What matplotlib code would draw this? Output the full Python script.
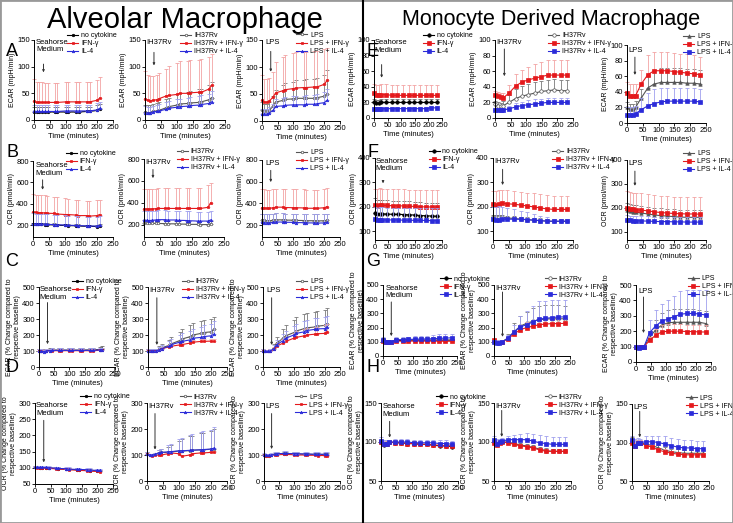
import matplotlib
matplotlib.use('Agg')
import matplotlib.pyplot as plt
import numpy as np
from matplotlib.patches import Rectangle

plt.rcParams['font.family'] = ['Liberation Sans', 'DejaVu Sans']
plt.rcParams['font.size'] = 5

# measurement times (minutes)
t_am = [0, 8, 16, 24, 36, 44, 66, 74, 100, 108, 134, 142, 168, 176, 200, 208]
t_md = [0, 9, 18, 27, 45, 66, 86, 107, 128, 148, 169, 190, 211, 232]

lab_med = ['no cytokine', 'IFN-γ', 'IL-4']
lab_rv = ['IH37Rv', 'IH37Rv + IFN-γ', 'IH37Rv + IL-4']
lab_lps = ['LPS', 'LPS + IFN-γ', 'LPS + IL-4']

# ---- Alveolar macrophage: ECAR (mpH/min)
a1_ctrl = [15, 15, 15, 15, 15, 15, 15, 15, 15, 15, 15, 15, 16, 16, 18, 20]
a1_ctrl_e = [9, 9, 9, 9, 9, 9, 9, 9, 9, 9, 9, 9, 9, 9, 10, 10]
a1_ifn = [35, 33, 33, 33, 33, 33, 33, 33, 34, 34, 34, 34, 34, 34, 37, 41]
a1_ifn_e = [42, 38, 38, 38, 37, 36, 36, 36, 37, 37, 38, 38, 38, 38, 38, 40]
a1_il4 = [17, 16, 16, 16, 16, 16, 16, 16, 17, 17, 17, 17, 17, 17, 19, 22]
a1_il4_e = [12, 12, 12, 12, 12, 12, 12, 12, 12, 12, 12, 12, 12, 12, 12, 12]

a2_rv = [15, 14, 14, 16, 17, 18, 23, 25, 28, 30, 31, 32, 33, 34, 38, 42]
a2_rv_e = [14, 14, 14, 14, 15, 15, 17, 17, 20, 20, 22, 22, 25, 25, 28, 30]
a2_ifn = [40, 37, 36, 37, 38, 40, 45, 46, 48, 50, 50, 51, 52, 52, 58, 65]
a2_ifn_e = [52, 48, 46, 46, 47, 48, 50, 55, 58, 60, 60, 62, 60, 62, 60, 58]
a2_il4 = [14, 13, 13, 15, 16, 17, 20, 22, 24, 25, 26, 27, 28, 29, 31, 34]
a2_il4_e = [12, 12, 12, 12, 12, 13, 14, 14, 15, 15, 16, 16, 17, 17, 18, 20]

a3_lps = [20, 18, 18, 20, 28, 35, 38, 40, 41, 42, 42, 42, 42, 43, 46, 50]
a3_lps_e = [15, 14, 14, 15, 18, 22, 28, 30, 32, 33, 34, 35, 36, 36, 40, 45]
a3_ifn = [38, 35, 35, 37, 45, 52, 56, 58, 60, 61, 62, 62, 63, 63, 68, 75]
a3_ifn_e = [48, 42, 42, 42, 45, 58, 62, 64, 65, 66, 66, 66, 66, 66, 65, 60]
a3_il4 = [13, 13, 13, 15, 20, 27, 28, 29, 30, 30, 30, 31, 31, 32, 34, 38]
a3_il4_e = [10, 10, 10, 10, 12, 14, 15, 16, 16, 17, 17, 17, 18, 18, 20, 22]

# ---- Alveolar macrophage: OCR (pmol/min)
b1_ctrl = [210, 210, 208, 208, 206, 205, 203, 200, 198, 197, 195, 193, 190, 190, 188, 195]
b1_ctrl_e = [15, 15, 15, 15, 15, 15, 15, 15, 15, 15, 15, 15, 15, 15, 15, 15]
b1_ifn = [320, 320, 318, 318, 315, 312, 310, 305, 300, 300, 295, 290, 290, 285, 290, 300]
b1_ifn_e = [170, 165, 168, 168, 165, 160, 158, 155, 150, 148, 145, 145, 140, 145, 145, 140]
b1_il4 = [215, 214, 212, 212, 210, 208, 206, 204, 202, 200, 198, 196, 194, 193, 192, 198]
b1_il4_e = [95, 95, 95, 95, 95, 95, 93, 92, 90, 90, 88, 88, 86, 86, 85, 85]

b2_rv = [215, 215, 213, 213, 215, 213, 212, 210, 210, 208, 207, 205, 205, 203, 203, 210]
b2_rv_e = [30, 30, 30, 30, 30, 30, 30, 30, 30, 30, 30, 30, 30, 30, 30, 30]
b2_ifn = [345, 345, 343, 345, 348, 350, 350, 350, 350, 350, 350, 350, 350, 350, 360, 400]
b2_ifn_e = [185, 185, 187, 185, 183, 185, 185, 183, 183, 185, 183, 185, 190, 185, 200, 180]
b2_il4 = [245, 242, 240, 242, 245, 248, 248, 245, 245, 242, 240, 238, 235, 235, 235, 245]
b2_il4_e = [85, 85, 85, 85, 85, 85, 85, 85, 85, 85, 85, 85, 85, 85, 85, 80]

b3_lps = [245, 243, 240, 240, 245, 248, 248, 246, 245, 243, 242, 240, 240, 238, 240, 245]
b3_lps_e = [60, 60, 60, 60, 60, 60, 60, 60, 60, 60, 60, 60, 60, 60, 60, 60]
b3_ifn = [360, 358, 355, 355, 360, 365, 365, 362, 360, 360, 358, 355, 355, 355, 360, 370]
b3_ifn_e = [170, 170, 170, 170, 170, 170, 170, 170, 170, 170, 170, 170, 170, 170, 170, 170]
b3_il4 = [225, 222, 220, 220, 225, 228, 228, 226, 225, 223, 222, 220, 220, 218, 220, 225]
b3_il4_e = [80, 80, 80, 80, 80, 80, 80, 80, 80, 80, 80, 80, 80, 80, 80, 80]

# ---- Alveolar macrophage: ECAR % of baseline
c1_ctrl = [100, 100, 100, 100, 105, 105, 105, 105, 105, 105, 105, 105, 106, 106, 108, 110]
c1_ctrl_e = [15, 12, 12, 12, 15, 15, 15, 15, 15, 15, 15, 15, 15, 15, 18, 20]
c1_ifn = [100, 100, 98, 100, 100, 102, 102, 102, 102, 102, 102, 102, 102, 102, 104, 106]
c1_ifn_e = [10, 10, 10, 10, 10, 10, 10, 10, 10, 10, 10, 10, 10, 10, 10, 10]
c1_il4 = [100, 98, 96, 100, 103, 104, 104, 104, 104, 104, 104, 104, 104, 104, 106, 108]
c1_il4_e = [12, 12, 12, 12, 12, 12, 12, 12, 12, 12, 12, 12, 12, 12, 12, 12]

c2_rv = [100, 100, 100, 100, 110, 120, 135, 145, 165, 175, 190, 200, 210, 215, 220, 235]
c2_rv_e = [15, 12, 12, 12, 20, 25, 35, 40, 55, 60, 70, 75, 80, 80, 80, 75]
c2_ifn = [105, 100, 100, 100, 105, 115, 125, 130, 138, 140, 150, 155, 160, 160, 162, 160]
c2_ifn_e = [10, 8, 8, 8, 10, 12, 15, 15, 15, 15, 15, 15, 15, 15, 15, 15]
c2_il4 = [100, 100, 100, 100, 108, 115, 130, 140, 155, 160, 170, 180, 185, 190, 195, 205]
c2_il4_e = [10, 10, 10, 10, 15, 20, 30, 35, 45, 50, 55, 60, 65, 70, 75, 80]

c3_lps = [100, 98, 98, 100, 120, 150, 180, 195, 215, 225, 240, 245, 250, 255, 260, 270]
c3_lps_e = [10, 10, 10, 10, 25, 40, 60, 70, 80, 85, 90, 90, 95, 95, 95, 100]
c3_ifn = [100, 98, 98, 100, 110, 130, 150, 160, 180, 185, 195, 200, 205, 208, 210, 220]
c3_ifn_e = [10, 10, 10, 10, 15, 20, 25, 30, 35, 40, 40, 45, 45, 45, 50, 50]
c3_il4 = [100, 98, 98, 100, 115, 140, 165, 180, 200, 210, 220, 228, 235, 238, 240, 250]
c3_il4_e = [10, 10, 10, 10, 20, 30, 40, 45, 55, 60, 65, 65, 70, 70, 70, 70]

# ---- Alveolar macrophage: OCR % of baseline
d1_ctrl = [102, 101, 100, 100, 100, 99, 98, 97, 96, 95, 94, 93, 92, 91, 90, 89]
d1_ctrl_e = [5, 4, 4, 4, 4, 4, 4, 4, 4, 4, 4, 4, 4, 4, 4, 4]
d1_ifn = [101, 100, 99, 99, 99, 98, 97, 96, 95, 94, 93, 92, 91, 90, 89, 88]
d1_ifn_e = [4, 4, 4, 4, 4, 4, 4, 4, 4, 4, 4, 4, 4, 4, 4, 4]
d1_il4 = [102, 101, 101, 101, 101, 100, 99, 98, 97, 96, 95, 95, 94, 93, 92, 92]
d1_il4_e = [5, 5, 5, 5, 5, 5, 5, 5, 5, 5, 5, 5, 5, 5, 5, 5]

d2_rv = [105, 100, 100, 102, 108, 110, 110, 112, 115, 115, 117, 118, 120, 120, 122, 125]
d2_rv_e = [5, 5, 5, 5, 10, 15, 20, 25, 40, 45, 55, 55, 65, 65, 70, 75]
d2_ifn = [105, 100, 98, 100, 100, 100, 105, 108, 105, 95, 100, 105, 108, 108, 110, 110]
d2_ifn_e = [4, 4, 4, 4, 4, 4, 4, 4, 4, 4, 4, 4, 4, 4, 4, 4]
d2_il4 = [105, 100, 100, 102, 108, 110, 112, 113, 116, 116, 118, 119, 120, 121, 123, 126]
d2_il4_e = [5, 5, 5, 5, 10, 15, 25, 30, 45, 50, 60, 60, 70, 70, 75, 80]

d3_lps = [100, 98, 98, 100, 102, 104, 105, 105, 104, 104, 103, 103, 102, 102, 102, 101]
d3_lps_e = [5, 5, 5, 5, 6, 6, 6, 6, 6, 6, 6, 6, 6, 6, 6, 6]
d3_ifn = [100, 97, 97, 99, 100, 101, 102, 102, 101, 100, 100, 99, 99, 98, 98, 97]
d3_ifn_e = [4, 4, 4, 4, 4, 4, 4, 4, 4, 4, 4, 4, 4, 4, 4, 4]
d3_il4 = [101, 99, 99, 100, 103, 105, 106, 106, 105, 105, 104, 104, 103, 103, 103, 102]
d3_il4_e = [6, 6, 6, 6, 8, 8, 8, 8, 8, 8, 8, 8, 8, 8, 8, 8]

# ---- Monocyte derived macrophage: ECAR (mpH/min)
e1_ctrl = [20, 19, 19, 20, 20, 20, 20, 20, 20, 20, 20, 20, 20, 20]
e1_ctrl_e = [4, 4, 4, 4, 4, 4, 4, 4, 4, 4, 4, 4, 4, 4]
e1_ifn = [32, 30, 30, 30, 30, 29, 29, 29, 29, 29, 29, 29, 29, 29]
e1_ifn_e = [12, 12, 12, 13, 14, 13, 13, 13, 13, 13, 13, 13, 13, 13]
e1_il4 = [12, 12, 11, 12, 12, 12, 12, 12, 12, 12, 12, 12, 13, 13]
e1_il4_e = [2, 2, 2, 2, 2, 2, 2, 2, 2, 2, 2, 2, 2, 2]

e2_rv = [18, 16, 15, 16, 20, 25, 28, 30, 32, 34, 35, 36, 35, 35]
e2_rv_e = [4, 4, 4, 6, 10, 12, 13, 13, 14, 14, 14, 14, 14, 14]
e2_ifn = [30, 28, 27, 26, 32, 41, 46, 49, 51, 53, 55, 55, 55, 55]
e2_ifn_e = [5, 5, 5, 6, 10, 15, 16, 17, 18, 19, 19, 19, 19, 19]
e2_il4 = [10, 10, 10, 10, 12, 14, 16, 17, 18, 19, 20, 20, 20, 20]
e2_il4_e = [3, 3, 3, 3, 4, 5, 5, 6, 6, 6, 6, 6, 6, 6]

e3_lps = [20, 18, 18, 20, 32, 45, 50, 52, 52, 52, 52, 51, 51, 50]
e3_lps_e = [7, 7, 7, 8, 12, 15, 18, 18, 18, 18, 18, 18, 18, 18]
e3_ifn = [38, 35, 35, 35, 50, 62, 67, 67, 67, 66, 65, 64, 63, 62]
e3_ifn_e = [15, 15, 15, 15, 18, 25, 24, 24, 24, 24, 24, 24, 24, 22]
e3_il4 = [10, 10, 10, 12, 17, 22, 25, 27, 28, 28, 28, 28, 28, 27]
e3_il4_e = [10, 10, 10, 10, 15, 17, 18, 18, 17, 17, 17, 17, 17, 16]

# ---- Monocyte derived macrophage: OCR (pmol/min)
f1_ctrl = [175, 170, 172, 172, 171, 170, 170, 169, 168, 167, 165, 164, 163, 162]
f1_ctrl_e = [60, 58, 58, 58, 57, 56, 56, 55, 55, 55, 55, 54, 54, 54]
f1_ifn = [210, 205, 208, 207, 206, 205, 205, 204, 203, 202, 201, 200, 200, 200]
f1_ifn_e = [65, 70, 68, 68, 68, 68, 68, 68, 68, 68, 68, 68, 68, 68]
f1_il4 = [150, 147, 148, 148, 147, 147, 147, 146, 146, 145, 145, 145, 144, 144]
f1_il4_e = [50, 50, 50, 50, 50, 50, 50, 50, 50, 50, 50, 50, 50, 50]

f2_rv = [158, 157, 158, 158, 155, 153, 150, 148, 146, 144, 142, 141, 141, 141]
f2_rv_e = [10, 10, 10, 10, 10, 10, 10, 10, 10, 10, 10, 10, 10, 10]
f2_ifn = [212, 210, 213, 215, 213, 211, 208, 204, 200, 196, 192, 190, 190, 190]
f2_ifn_e = [55, 55, 55, 55, 55, 55, 55, 55, 55, 55, 55, 55, 55, 55]
f2_il4 = [150, 145, 148, 150, 150, 150, 150, 148, 146, 144, 142, 142, 142, 142]
f2_il4_e = [50, 55, 55, 50, 45, 40, 35, 30, 25, 20, 15, 10, 10, 10]

f3_lps = [190, 185, 183, 182, 178, 174, 170, 167, 165, 163, 161, 160, 160, 160]
f3_lps_e = [30, 30, 30, 30, 30, 30, 30, 30, 30, 30, 30, 30, 30, 30]
f3_ifn = [200, 195, 193, 192, 190, 187, 183, 180, 178, 176, 175, 174, 174, 173]
f3_ifn_e = [70, 70, 70, 70, 70, 70, 70, 70, 70, 70, 70, 70, 70, 70]
f3_il4 = [150, 147, 146, 146, 145, 144, 143, 142, 142, 141, 141, 140, 140, 140]
f3_il4_e = [20, 20, 20, 20, 20, 20, 20, 20, 20, 20, 20, 20, 20, 20]

# ---- Monocyte derived macrophage: ECAR % of baseline
g1_ctrl = [110, 100, 98, 100, 110, 110, 112, 112, 112, 112, 112, 112, 112, 112]
g1_ctrl_e = [15, 10, 10, 10, 15, 15, 18, 18, 20, 20, 22, 22, 24, 24]
g1_ifn = [105, 100, 98, 100, 105, 105, 105, 105, 105, 105, 105, 104, 104, 104]
g1_ifn_e = [10, 8, 8, 8, 10, 10, 10, 10, 10, 10, 10, 10, 10, 10]
g1_il4 = [115, 100, 98, 100, 115, 115, 117, 118, 120, 120, 122, 124, 126, 128]
g1_il4_e = [20, 10, 10, 10, 20, 20, 20, 22, 22, 24, 26, 28, 28, 28]

g2_rv = [100, 100, 100, 100, 125, 170, 210, 230, 245, 255, 260, 262, 262, 262]
g2_rv_e = [15, 15, 15, 15, 30, 60, 70, 80, 90, 100, 100, 100, 95, 90]
g2_ifn = [110, 100, 100, 100, 120, 155, 185, 200, 210, 220, 225, 228, 228, 230]
g2_ifn_e = [10, 10, 10, 10, 15, 25, 35, 40, 40, 40, 40, 40, 40, 40]
g2_il4 = [100, 95, 95, 100, 125, 170, 205, 220, 240, 260, 265, 270, 275, 275]
g2_il4_e = [15, 15, 15, 15, 25, 50, 80, 100, 110, 125, 120, 125, 120, 120]

g3_lps = [100, 95, 95, 100, 160, 210, 240, 255, 258, 258, 258, 258, 258, 250]
g3_lps_e = [10, 10, 10, 10, 40, 60, 80, 85, 85, 85, 85, 85, 80, 80]
g3_ifn = [100, 95, 95, 100, 140, 175, 195, 200, 200, 200, 198, 198, 195, 195]
g3_ifn_e = [10, 10, 10, 10, 20, 40, 45, 45, 45, 45, 45, 45, 45, 45]
g3_il4 = [100, 90, 95, 100, 190, 235, 265, 280, 295, 310, 315, 315, 312, 305]
g3_il4_e = [10, 10, 10, 10, 85, 105, 110, 125, 135, 150, 150, 155, 155, 160]

# ---- Monocyte derived macrophage: OCR % of baseline
h1_ctrl = [100, 96, 98, 100, 99, 99, 98, 98, 97, 97, 96, 95, 95, 94]
h1_ctrl_e = [3, 4, 3, 3, 3, 3, 3, 3, 3, 3, 3, 3, 3, 3]
h1_ifn = [100, 97, 98, 100, 99, 99, 98, 98, 97, 97, 96, 96, 95, 95]
h1_ifn_e = [3, 3, 3, 3, 3, 3, 3, 3, 3, 3, 3, 3, 3, 3]
h1_il4 = [101, 97, 98, 100, 100, 100, 100, 99, 99, 99, 99, 98, 98, 97]
h1_il4_e = [5, 5, 4, 3, 4, 4, 4, 4, 4, 4, 4, 4, 4, 4]

h2_rv = [100, 97, 100, 100, 100, 98, 96, 95, 93, 91, 89, 88, 88, 88]
h2_rv_e = [3, 3, 3, 3, 3, 3, 3, 3, 3, 3, 3, 3, 3, 3]
h2_ifn = [99, 96, 99, 100, 99, 97, 95, 94, 92, 90, 88, 88, 88, 88]
h2_ifn_e = [2, 2, 2, 2, 2, 2, 2, 2, 2, 2, 2, 2, 2, 2]
h2_il4 = [103, 98, 100, 101, 103, 103, 103, 103, 101, 99, 98, 97, 97, 97]
h2_il4_e = [5, 6, 4, 4, 5, 6, 7, 8, 9, 10, 10, 10, 10, 10]

h3_lps = [103, 95, 100, 100, 98, 96, 93, 90, 88, 87, 86, 86, 86, 86]
h3_lps_e = [4, 5, 3, 3, 4, 4, 4, 4, 4, 4, 4, 4, 4, 4]
h3_ifn = [100, 96, 100, 100, 96, 94, 90, 88, 86, 85, 84, 84, 84, 84]
h3_ifn_e = [3, 3, 3, 3, 3, 3, 3, 3, 3, 3, 3, 3, 3, 3]
h3_il4 = [103, 95, 100, 100, 101, 101, 100, 98, 96, 94, 93, 93, 92, 92]
h3_il4_e = [5, 10, 6, 5, 7, 8, 9, 10, 10, 10, 10, 10, 10, 10]

W, H = 733, 523
fig = plt.figure(figsize=(W / 100, H / 100), dpi=100)


def rect(x0, x1, y0, y1):
    return [x0 / W, 1 - y1 / H, (x1 - x0) / W, (y1 - y0) / H]


RED, BLUE = '#e4191c', '#2b2bd9'
st_ctrl = dict(color='black', marker='o', mfc='black', ecolor='#6a6a6a')
st_path = dict(color='#555555', marker='o', mfc='white', ecolor='#7a7a7a')
st_tri = dict(color='#555555', marker='^', mfc='#555555', ecolor='#7a7a7a')
st_red = dict(color=RED, marker='s', mfc=RED, ecolor='#f3a3a3')
st_blue_t = dict(color=BLUE, marker='^', mfc=BLUE, ecolor='#a0a0ee')
st_blue_s = dict(color=BLUE, marker='s', mfc=BLUE, ecolor='#a0a0ee')

ECAR = 'ECAR (mpH/min)'
OCR = 'OCR (pmol/min)'
ECARp = 'ECAR (% Change compared to\nrespective baseline)'
OCRp = 'OCR (% Change compared to\nrespective baseline)'


def panel(box, t, series, labels, styles, ylim, yticks, ylabel, leg, note, arrow, ms=1.8):
    ax = fig.add_axes(rect(*box))
    for (y, e), lab, st in zip(series, labels, styles):
        e = np.array(e)
        ax.errorbar(t, y, yerr=[np.zeros_like(e), e], fmt='none', ecolor=st['ecolor'],
                    elinewidth=0.6, capsize=1.3, capthick=0.6, clip_on=False)
        ax.plot(t, y, color=st['color'], marker=st['marker'], ms=ms, mfc=st['mfc'],
                mec=st['color'], mew=0.5, lw=0.8, label=lab, clip_on=False)
    ax.set_xlim(0, 250)
    ax.set_xticks([0, 50, 100, 150, 200, 250])
    ax.set_ylim(*ylim)
    ax.set_yticks(yticks)
    ax.set_xlabel('Time (minutes)', fontsize=5.5, labelpad=1)
    ax.set_ylabel(ylabel, fontsize=5, labelpad=1)
    ax.tick_params(length=2, width=0.6, pad=1, labelsize=5.5)
    for s in ['top', 'right']:
        ax.spines[s].set_visible(False)
    for s in ['left', 'bottom']:
        ax.spines[s].set_linewidth(0.7)
    ax.legend(loc='upper left', bbox_to_anchor=leg, frameon=False, fontsize=5,
              handlelength=1.6, handletextpad=0.4, labelspacing=0.15, borderpad=0,
              borderaxespad=0)
    txt, tx, ty = note
    ax.text(tx, ty, txt, fontsize=5.5, va='top', ha='left', linespacing=1.1)
    axx, y0, y1 = arrow
    ax.annotate('', xy=(axx, y1), xytext=(axx, y0),
                arrowprops=dict(arrowstyle='-|>,head_width=0.12,head_length=0.25',
                                color='#333333', lw=0.7))
    return ax


AMs = [st_ctrl, st_red, st_blue_t]
AMp = [st_path, st_red, st_blue_t]
MDs = [st_ctrl, st_red, st_blue_s]
MDp = [st_path, st_red, st_blue_s]
MDl = [st_tri, st_red, st_blue_s]
SM = 'Seahorse\nMedium'

# row A
panel((34, 113, 40, 120), t_am, [(a1_ctrl, a1_ctrl_e), (a1_ifn, a1_ifn_e), (a1_il4, a1_il4_e)],
      lab_med, AMs, (0, 150), [0, 50, 100, 150], ECAR, (0.42, 1.1), (SM, 6, 152), (30, 110, 84))
panel((145, 225, 40, 120), t_am, [(a2_rv, a2_rv_e), (a2_ifn, a2_ifn_e), (a2_il4, a2_il4_e)],
      lab_rv, AMp, (0, 150), [0, 50, 100, 150], ECAR, (0.44, 1.1), ('IH37Rv', 4, 152), (28, 132, 97))
panel((262, 340, 40, 121), t_am, [(a3_lps, a3_lps_e), (a3_ifn, a3_ifn_e), (a3_il4, a3_il4_e)],
      lab_lps, AMp, (0, 150), [0, 50, 100, 150], ECAR, (0.44, 1.1), ('LPS', 12, 152), (28, 134, 86))
# row B
panel((33, 113, 161, 237), t_am, [(b1_ctrl, b1_ctrl_e), (b1_ifn, b1_ifn_e), (b1_il4, b1_il4_e)],
      lab_med, AMs, (90, 800), [200, 400, 600, 800], OCR, (0.41, 1.14), (SM, 8, 790), (30, 650, 505))
panel((144, 224, 159, 237), t_am, [(b2_rv, b2_rv_e), (b2_ifn, b2_ifn_e), (b2_il4, b2_il4_e)],
      lab_rv, AMp, (90, 800), [200, 400, 600, 800], OCR, (0.41, 1.14), ('IH37Rv', 4, 800), (28, 730, 600))
panel((262, 340, 160, 237), t_am, [(b3_lps, b3_lps_e), (b3_ifn, b3_ifn_e), (b3_il4, b3_il4_e)],
      lab_lps, AMp, (90, 800), [200, 400, 600, 800], OCR, (0.44, 1.14), ('LPS', 12, 800), (28, 730, 570))
# row C
panel((39, 115, 287, 367), t_am, [(c1_ctrl, c1_ctrl_e), (c1_ifn, c1_ifn_e), (c1_il4, c1_il4_e)],
      lab_med, AMs, (0, 500), [0, 100, 200, 300, 400, 500], ECARp, (0.43, 1.11), (SM, 2, 505), (28, 420, 125))
panel((148, 227, 287, 367), t_am, [(c2_rv, c2_rv_e), (c2_ifn, c2_ifn_e), (c2_il4, c2_il4_e)],
      lab_rv, AMp, (0, 500), [0, 100, 200, 300, 400, 500], ECARp, (0.43, 1.11), ('IH37Rv', 3, 500), (28, 450, 120))
panel((263, 340, 287, 367), t_am, [(c3_lps, c3_lps_e), (c3_ifn, c3_ifn_e), (c3_il4, c3_il4_e)],
      lab_lps, AMp, (0, 500), [0, 100, 200, 300, 400, 500], ECARp, (0.43, 1.11), ('LPS', 10, 500), (28, 450, 120))
# row D
panel((35, 113, 403, 484), t_am, [(d1_ctrl, d1_ctrl_e), (d1_ifn, d1_ifn_e), (d1_il4, d1_il4_e)],
      lab_med, AMs, (50, 300), [50, 100, 150, 200, 250, 300], OCRp, (0.58, 1.12), (SM, 3, 302), (28, 255, 108))
panel((147, 227, 403, 481), t_am, [(d2_rv, d2_rv_e), (d2_ifn, d2_ifn_e), (d2_il4, d2_il4_e)],
      lab_rv, AMp, (0, 300), [0, 100, 200, 300], OCRp, (0.41, 1.12), ('IH37Rv', 3, 300), (25, 270, 110))
panel((264, 340, 403, 481), t_am, [(d3_lps, d3_lps_e), (d3_ifn, d3_ifn_e), (d3_il4, d3_il4_e)],
      lab_lps, AMp, (0, 300), [0, 100, 200, 300], OCRp, (0.41, 1.12), ('LPS', 5, 300), (25, 270, 112))

# row E
panel((374, 442, 40, 118), t_md, [(e1_ctrl, e1_ctrl_e), (e1_ifn, e1_ifn_e), (e1_il4, e1_il4_e)],
      lab_med, MDs, (0, 100), [0, 20, 40, 60, 80, 100], ECAR, (0.72, 1.1), (SM, 3, 101), (28, 72, 48), ms=2.5)
panel((495, 573, 40, 118), t_md, [(e2_rv, e2_rv_e), (e2_ifn, e2_ifn_e), (e2_il4, e2_il4_e)],
      lab_rv, MDp, (0, 100), [0, 20, 40, 60, 80, 100], ECAR, (0.68, 1.1), ('IH37Rv', 4, 101), (30, 92, 50), ms=2.5)
panel((627, 706, 45, 123), t_md, [(e3_lps, e3_lps_e), (e3_ifn, e3_ifn_e), (e3_il4, e3_il4_e)],
      lab_lps, MDl, (0, 100), [0, 20, 40, 60, 80, 100], ECAR, (0.71, 1.15), ('LPS', 4, 97), (25, 88, 58), ms=2.5)
# row F
panel((375, 442, 158, 240), t_md, [(f1_ctrl, f1_ctrl_e), (f1_ifn, f1_ifn_e), (f1_il4, f1_il4_e)],
      lab_med, MDs, (65, 400), [100, 200, 300, 400], OCR, (0.8, 1.12), (SM, 3, 402), (30, 318, 285), ms=2.5)
panel((493, 573, 158, 240), t_md, [(f2_rv, f2_rv_e), (f2_ifn, f2_ifn_e), (f2_il4, f2_il4_e)],
      lab_rv, MDp, (65, 400), [100, 200, 300, 400], OCR, (0.74, 1.12), ('IH37Rv', 4, 402), (30, 365, 278), ms=2.5)
panel((627, 706, 160, 240), t_md, [(f3_lps, f3_lps_e), (f3_ifn, f3_ifn_e), (f3_il4, f3_il4_e)],
      lab_lps, MDl, (65, 400), [100, 200, 300, 400], OCR, (0.71, 1.12), ('LPS', 4, 402), (25, 365, 280), ms=2.5)
# row G
panel((383, 457, 285, 356), t_md, [(g1_ctrl, g1_ctrl_e), (g1_ifn, g1_ifn_e), (g1_il4, g1_il4_e)],
      lab_med, MDs, (0, 500), [0, 100, 200, 300, 400, 500], ECARp, (0.77, 1.13), (SM, 8, 500), (28, 400, 120), ms=2.5)
panel((494, 570, 285, 356), t_md, [(g2_rv, g2_rv_e), (g2_ifn, g2_ifn_e), (g2_il4, g2_il4_e)],
      lab_rv, MDp, (0, 500), [0, 100, 200, 300, 400, 500], ECARp, (0.67, 1.13), ('IH37Rv', 4, 500), (28, 470, 115), ms=2.5)
panel((636, 711, 285, 362), t_md, [(g3_lps, g3_lps_e), (g3_ifn, g3_ifn_e), (g3_il4, g3_il4_e)],
      lab_lps, MDl, (0, 500), [0, 100, 200, 300, 400, 500], ECARp, (0.69, 1.13), ('LPS', 8, 480), (25, 440, 170), ms=2.5)
# row H
panel((381, 458, 403, 481), t_md, [(h1_ctrl, h1_ctrl_e), (h1_ifn, h1_ifn_e), (h1_il4, h1_il4_e)],
      lab_med, MDs, (50, 150), [50, 100, 150], OCRp, (0.71, 1.12), (SM, 5, 150), (28, 130, 102), ms=2.5)
panel((494, 571, 403, 481), t_md, [(h2_rv, h2_rv_e), (h2_ifn, h2_ifn_e), (h2_il4, h2_il4_e)],
      lab_rv, MDp, (50, 150), [50, 100, 150], OCRp, (0.66, 1.12), ('IH37Rv', 3, 150), (25, 144, 103), ms=2.5)
panel((632, 709, 404, 481), t_md, [(h3_lps, h3_lps_e), (h3_ifn, h3_ifn_e), (h3_il4, h3_il4_e)],
      lab_lps, MDl, (50, 150), [50, 100, 150], OCRp, (0.70, 1.12), ('LPS', 3, 150), (25, 144, 103), ms=2.5)

# titles, panel letters, divider, border
fig.text(185 / W, 1 - 20 / H, 'Alveolar Macrophage', fontsize=21, ha='center', va='center')
fig.text(551 / W, 1 - 20 / H, 'Monocyte Derived Macrophage', fontsize=15.5, ha='center', va='center')
for letter, x, y in [('A', 12, 52), ('B', 12, 152), ('C', 12, 262), ('D', 12, 368),
                     ('E', 373, 52), ('F', 373, 152), ('G', 373, 262), ('H', 373, 368)]:
    fig.text(x / W, 1 - y / H, letter, fontsize=13, ha='center', va='center')
fig.add_artist(plt.Line2D([363 / W, 363 / W], [0, 1], color='black', lw=1.5))
fig.add_artist(Rectangle((0, 0), 1, 1, transform=fig.transFigure, fill=False,
                         edgecolor='#999999', lw=2))

fig.savefig('out.png', dpi=100)
